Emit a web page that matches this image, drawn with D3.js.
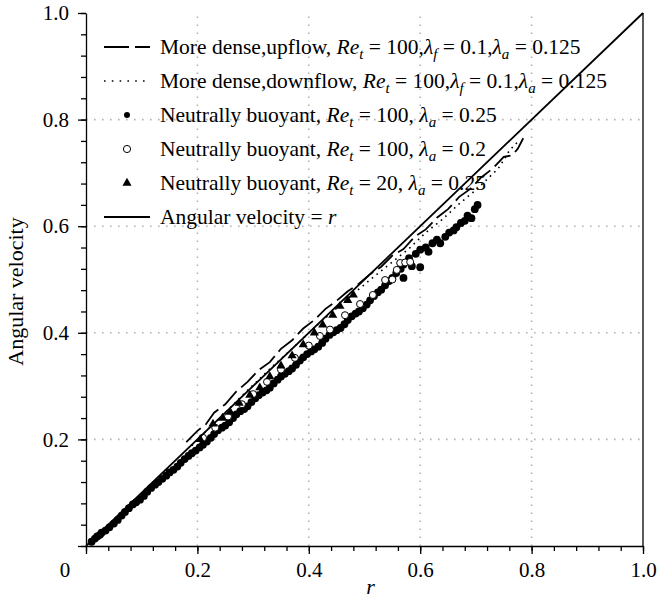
<!DOCTYPE html>
<html>
<head>
<meta charset="utf-8">
<script src="https://cdn.jsdelivr.net/npm/d3@7/dist/d3.min.js"></script>
<style>
  body { margin: 0; background: #fff; }
  text { font-family: "Liberation Serif", "Times New Roman", serif; fill: #000; }
</style>
</head>
<body>
<div id="chart-area"></div>
<script>
// ---- data (r, angular velocity) ----
const diagonal = [[0, 0], [1, 1]];

const upflow = [[0.18,0.195],[0.2,0.216],[0.215,0.228],[0.23,0.25],[0.25,0.266],[0.27,0.29],[0.29,0.308],
  [0.31,0.33],[0.33,0.345],[0.35,0.37],[0.37,0.386],[0.39,0.408],[0.41,0.424],[0.43,0.445],[0.45,0.46],
  [0.47,0.478],[0.49,0.492],[0.51,0.51],[0.53,0.524],[0.55,0.545],[0.57,0.557],[0.59,0.58],[0.61,0.594],
  [0.63,0.616],[0.65,0.632],[0.67,0.655],[0.69,0.67],[0.71,0.692],[0.73,0.708],[0.75,0.73],[0.765,0.733],
  [0.775,0.745],[0.785,0.765]];

const downflow = [[0.19,0.188],[0.22,0.22],[0.25,0.25],[0.28,0.282],[0.31,0.312],[0.34,0.342],[0.37,0.37],
  [0.4,0.4],[0.43,0.428],[0.46,0.455],[0.49,0.482],[0.52,0.508],[0.55,0.533],[0.58,0.558],[0.61,0.588],
  [0.64,0.613],[0.67,0.642],[0.7,0.668],[0.72,0.688],[0.74,0.708],[0.75,0.724],[0.76,0.742],[0.775,0.758]];

const buoyant100a = [[0.01,0.008],[0.016,0.014],[0.02,0.018],[0.025,0.021],[0.028,0.025],[0.035,0.029],[0.042,0.035],[0.05,0.042],
  [0.057,0.049],[0.064,0.057],[0.07,0.064],[0.077,0.071],[0.084,0.078],[0.09,0.082],[0.097,0.087],[0.104,0.094],
  [0.11,0.102],[0.117,0.109],[0.124,0.115],[0.13,0.12],[0.137,0.126],[0.144,0.132],[0.15,0.138],[0.157,0.143],
  [0.164,0.149],[0.17,0.156],[0.177,0.163],[0.184,0.169],[0.19,0.174],[0.197,0.179],[0.204,0.185],[0.21,0.19],
  [0.217,0.196],[0.224,0.203],[0.23,0.21],[0.237,0.217],[0.244,0.222],[0.25,0.226],[0.257,0.232],[0.264,0.24],
  [0.27,0.247],[0.277,0.253],[0.284,0.257],[0.29,0.262],[0.297,0.27],[0.304,0.277],[0.31,0.283],[0.317,0.288],
  [0.324,0.292],[0.33,0.297],[0.337,0.305],[0.344,0.312],[0.35,0.318],[0.357,0.323],[0.364,0.328],[0.37,0.333],
  [0.377,0.34],[0.384,0.348],[0.39,0.354],[0.397,0.36],[0.404,0.365],[0.41,0.369],[0.417,0.374],[0.424,0.381],
  [0.43,0.389],[0.437,0.396],[0.444,0.401],[0.45,0.405],[0.457,0.409],[0.464,0.416],[0.47,0.424],[0.477,0.431],
  [0.484,0.436],[0.49,0.44],[0.497,0.446],[0.504,0.453],[0.51,0.461],[0.517,0.469],[0.524,0.476],[0.53,0.481],
  [0.537,0.489],[0.544,0.497],[0.55,0.503],[0.557,0.512],[0.565,0.52],[0.57,0.528],[0.57,0.503],[0.58,0.54],
  [0.585,0.525],[0.592,0.548],[0.6,0.523],[0.6,0.556],[0.61,0.56],[0.615,0.552],[0.622,0.568],[0.63,0.575],
  [0.636,0.568],[0.645,0.58],[0.652,0.588],[0.66,0.592],[0.665,0.598],[0.673,0.606],[0.68,0.61],[0.685,0.62],
  [0.692,0.615],[0.698,0.632],[0.703,0.64]];

const buoyant100b = [[0.21,0.203],[0.232,0.222],[0.255,0.243],[0.28,0.266],[0.3,0.285],[0.325,0.308],
  [0.35,0.331],[0.375,0.353],[0.4,0.376],[0.42,0.394],[0.438,0.406],[0.465,0.433],[0.492,0.454],[0.515,0.471],
  [0.537,0.499],[0.55,0.5],[0.558,0.518],[0.564,0.531],[0.573,0.532],[0.582,0.533]];

const buoyant20 = [[0.205,0.2],[0.228,0.229],[0.245,0.24],[0.259,0.251],[0.275,0.268],[0.294,0.283],
  [0.312,0.297],[0.33,0.318],[0.35,0.338],[0.37,0.357],[0.39,0.378],[0.41,0.4],[0.425,0.415],[0.443,0.433],
  [0.456,0.45],[0.47,0.461],[0.48,0.471]];

const majorTicks = [0, 0.2, 0.4, 0.6, 0.8, 1.0];
const minorTicks = d3.range(0, 26).map(i => i * 0.04);
const gridValues = [0.2, 0.4, 0.6, 0.8];

const legendLabels = [
  [["More dense,upflow, "], ["Re", "i"], ["t", "s"], [" = 100,"], ["λ", "i"], ["f", "s"], [" = 0.1,"], ["λ", "i"], ["a", "s"], [" = 0.125"]],
  [["More dense,downflow, "], ["Re", "i"], ["t", "s"], [" = 100,"], ["λ", "i"], ["f", "s"], [" = 0.1,"], ["λ", "i"], ["a", "s"], [" = 0.125"]],
  [["Neutrally buoyant, "], ["Re", "i"], ["t", "s"], [" = 100, "], ["λ", "i"], ["a", "s"], [" = 0.25"]],
  [["Neutrally buoyant, "], ["Re", "i"], ["t", "s"], [" = 100, "], ["λ", "i"], ["a", "s"], [" = 0.2"]],
  [["Neutrally buoyant, "], ["Re", "i"], ["t", "s"], [" = 20, "], ["λ", "i"], ["a", "s"], [" = 0.25"]],
  [["Angular velocity = "], ["r", "i"]]
];
const legendKinds = ["dash", "dot", "filled", "open", "tri", "solid"];

// ---- chart ----
const margin = { left: 86, right: 14, top: 13, bottom: 52 };
const W = 657, H = 598;
const width = W - margin.left - margin.right,
  height = H - margin.top - margin.bottom;

const svg = d3.select("#chart-area").append("svg")
  .attr("width", W).attr("height", H);
svg.append("rect").attr("width", W).attr("height", H).attr("fill", "#fff");

const g = svg.append("g").attr("transform", `translate(${margin.left}, ${margin.top})`);

const x = d3.scaleLinear().domain([0, 1]).range([0, width]);
const y = d3.scaleLinear().domain([0, 1]).range([height, 0]);

// grid
const grid = g.append("g").attr("stroke", "#b4b4b4").attr("stroke-width", 1.6)
  .attr("stroke-dasharray", "1.6,6.4").attr("fill", "none");
gridValues.forEach(v => {
  grid.append("line").attr("x1", x(v)).attr("x2", x(v)).attr("y1", y(0)).attr("y2", y(1));
  grid.append("line").attr("x1", x(0)).attr("x2", x(1)).attr("y1", y(v)).attr("y2", y(v));
});

// axes
const fmt = d => d === 0 ? "" : d3.format(".1f")(d);
function styleAxis(sel) {
  sel.selectAll("path, line").attr("stroke", "#000").attr("stroke-width", 1.3);
  sel.selectAll("text").attr("font-size", "21px").attr("font-family", "Liberation Serif, serif");
}
g.append("g").attr("transform", `translate(0, ${height})`)
  .call(d3.axisBottom(x).tickValues(minorTicks).tickSize(5).tickSizeOuter(0).tickFormat(""))
  .call(styleAxis);
g.append("g").attr("transform", `translate(0, ${height})`)
  .call(d3.axisBottom(x).tickValues(majorTicks).tickSize(8).tickSizeOuter(0).tickPadding(8).tickFormat(fmt))
  .call(styleAxis).select(".domain").remove();
g.append("g")
  .call(d3.axisLeft(y).tickValues(minorTicks).tickSize(5).tickSizeOuter(0).tickFormat(""))
  .call(styleAxis);
g.append("g")
  .call(d3.axisLeft(y).tickValues(majorTicks).tickSize(8).tickSizeOuter(0).tickPadding(9).tickFormat(fmt))
  .call(styleAxis).select(".domain").remove();
g.append("line").attr("x1", x(1)).attr("x2", x(1)).attr("y1", y(0)).attr("y2", y(1))
  .attr("stroke", "#000").attr("stroke-width", 1.3);

g.append("text").attr("x", -21).attr("y", height + 31)
  .attr("text-anchor", "middle").attr("font-size", "21px").text("0");
g.append("text").attr("x", width / 2 + 6).attr("y", height + 48)
  .attr("text-anchor", "middle").attr("font-size", "22px").attr("font-style", "italic").text("r");
g.append("text").attr("transform", `translate(-63, ${height / 2 + 12}) rotate(-90)`)
  .attr("text-anchor", "middle").attr("font-size", "22px").text("Angular velocity");

// series
const line = d3.line().x(d => x(d[0])).y(d => y(d[1]));

g.append("g").selectAll("circle").data(buoyant100a).join("circle")
  .attr("cx", d => x(d[0])).attr("cy", d => y(d[1])).attr("r", 3.9).attr("fill", "#000");

g.append("g").selectAll("circle").data(buoyant100b).join("circle")
  .attr("cx", d => x(d[0])).attr("cy", d => y(d[1])).attr("r", 3.5)
  .attr("fill", "#fff").attr("stroke", "#000").attr("stroke-width", 1);

const tri = d3.symbol().type(d3.symbolTriangle).size(36);
g.append("g").selectAll("path").data(buoyant20).join("path")
  .attr("d", tri).attr("transform", d => `translate(${x(d[0])}, ${y(d[1])})`).attr("fill", "#000");

g.append("path").datum(downflow).attr("d", line).attr("fill", "none")
  .attr("stroke", "#000").attr("stroke-width", 1.6).attr("stroke-dasharray", "1.6,4.4");
g.append("path").datum(upflow).attr("d", line).attr("fill", "none")
  .attr("stroke", "#000").attr("stroke-width", 1.8).attr("stroke-dasharray", "20,6");
g.append("path").datum(diagonal).attr("d", line).attr("fill", "none")
  .attr("stroke", "#000").attr("stroke-width", 1.8);

// legend
function richText(sel, parts) {
  parts.forEach(([t, k]) => {
    const s = sel.append("tspan").text(t);
    if (k === "i" || k === "s") s.attr("font-style", "italic");
    if (k === "s") s.attr("font-size", "15px").attr("baseline-shift", "-30%");
  });
}
const legend = svg.append("g");
legendLabels.forEach((lab, i) => {
  const cy = 47 + i * 34;
  const k = legendKinds[i];
  const row = legend.append("g");
  if (k === "dash") row.append("line").attr("x1", 104).attr("x2", 150).attr("y1", cy).attr("y2", cy)
    .attr("stroke", "#000").attr("stroke-width", 2).attr("stroke-dasharray", "25,6");
  if (k === "dot") row.append("line").attr("x1", 104).attr("x2", 148).attr("y1", cy).attr("y2", cy)
    .attr("stroke", "#000").attr("stroke-width", 1.6).attr("stroke-dasharray", "1.6,6.2");
  if (k === "solid") row.append("line").attr("x1", 104).attr("x2", 150).attr("y1", cy).attr("y2", cy)
    .attr("stroke", "#000").attr("stroke-width", 2);
  if (k === "filled") row.append("circle").attr("cx", 127).attr("cy", cy).attr("r", 3).attr("fill", "#000");
  if (k === "open") row.append("circle").attr("cx", 127).attr("cy", cy).attr("r", 3.6)
    .attr("fill", "#fff").attr("stroke", "#000").attr("stroke-width", 1);
  if (k === "tri") row.append("path").attr("d", tri).attr("transform", `translate(127, ${cy})`).attr("fill", "#000");
  const txt = row.append("text").attr("x", 160).attr("y", cy + 7).attr("font-size", "21.5px");
  richText(txt, lab);
});
</script>
</body>
</html>
